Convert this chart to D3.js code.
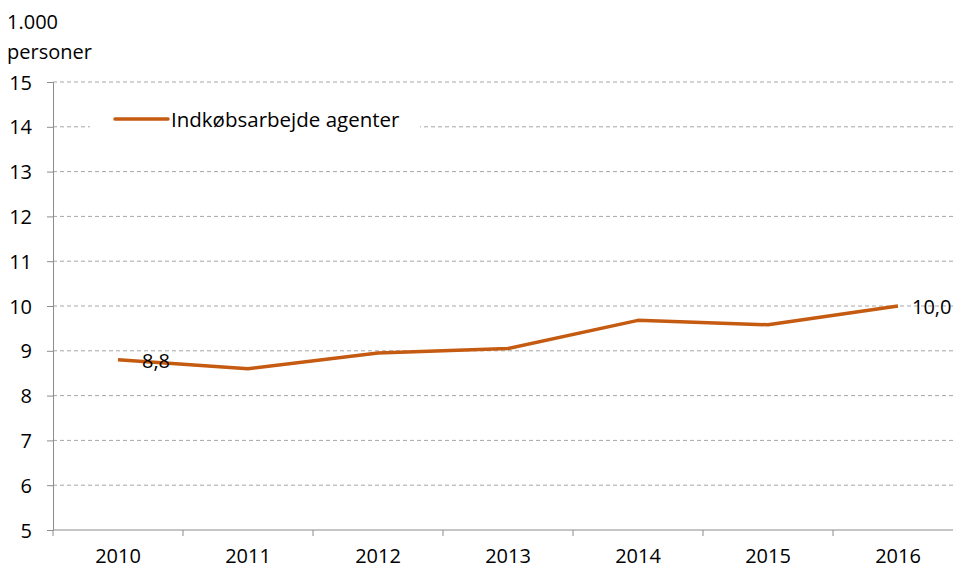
<!DOCTYPE html>
<html>
<head>
<meta charset="utf-8">
<script src="https://cdn.jsdelivr.net/npm/d3@7"></script>
<style>
  body { margin: 0; background: #fff; }
  text { font-family: "Open Sans", "Noto Sans", sans-serif; fill: #000; }
</style>
</head>
<body>
<div id="chart"></div>
<script>
var years = ["2010", "2011", "2012", "2013", "2014", "2015", "2016"];
var agenter = [8.8, 8.6, 8.95, 9.05, 9.68, 9.58, 10.0];
var yTicks = [5, 6, 7, 8, 9, 10, 11, 12, 13, 14, 15];
var seriesName = "Indkøbsarbejde agenter";
var unitLines = ["1.000", "personer"];

var cfg = { w: 953, h: 569, left: 53, top: 82, bot: 530, band: 130 };
var lineColor = "#C55A11";

var svg = d3.select("#chart").append("svg")
  .attr("width", cfg.w)
  .attr("height", cfg.h);

var x = d3.scaleBand()
  .domain(years)
  .range([cfg.left, cfg.left + cfg.band * years.length]);

var y = d3.scaleLinear()
  .domain([5, 15])
  .range([cfg.bot, cfg.top]);

// gridlines
svg.append("g").selectAll("line")
  .data(yTicks.filter(function(d) { return d > 5; }))
  .enter().append("line")
  .attr("x1", cfg.left).attr("x2", cfg.w)
  .attr("y1", function(d) { return y(d); })
  .attr("y2", function(d) { return y(d); })
  .style("stroke", "#a6a6a6")
  .style("stroke-width", 1)
  .style("stroke-dasharray", "4,3");

// y axis
var yAxis = svg.append("g")
  .attr("transform", "translate(" + cfg.left + ",0)")
  .call(d3.axisLeft(y).tickValues(yTicks).tickSize(6).tickPadding(15));
yAxis.select(".domain").style("stroke", "#8c8c8c");
yAxis.selectAll(".tick line").style("stroke", "#8c8c8c");
yAxis.selectAll("text").style("font-size", "20px").attr("dy", "0.35em")
  .style("font-family", "'Open Sans', sans-serif");

// x axis, ticks between categories
var xAxisG = svg.append("g")
  .attr("transform", "translate(0," + cfg.bot + ")");
xAxisG.append("line")
  .attr("x1", cfg.left).attr("x2", cfg.w)
  .style("stroke", "#8c8c8c");
xAxisG.selectAll(".xtick")
  .data(years)
  .enter().append("line")
  .attr("class", "xtick")
  .attr("x1", function(d) { return x(d); })
  .attr("x2", function(d) { return x(d); })
  .attr("y1", 0).attr("y2", 6)
  .style("stroke", "#8c8c8c");
xAxisG.selectAll(".xlabel")
  .data(years)
  .enter().append("text")
  .attr("x", function(d) { return x(d) + x.bandwidth() / 2; })
  .attr("y", 33)
  .attr("text-anchor", "middle")
  .style("font-size", "20px")
  .text(function(d) { return d; });

// unit label
svg.selectAll(".unit")
  .data(unitLines)
  .enter().append("text")
  .attr("x", 7)
  .attr("y", function(d, i) { return 29 + i * 30; })
  .style("font-size", "20px")
  .text(function(d) { return d; });

// legend box covers gridlines
svg.append("rect")
  .attr("x", 90).attr("y", 100)
  .attr("width", 330).attr("height", 45)
  .style("fill", "#fff");
svg.append("line")
  .attr("x1", 115).attr("x2", 168)
  .attr("y1", 119).attr("y2", 119)
  .style("stroke", lineColor)
  .style("stroke-width", 3.5)
  .style("stroke-linecap", "round");
svg.append("text")
  .attr("x", 171).attr("y", 127)
  .style("font-size", "20.5px")
  .text(seriesName);

// series line
var line = d3.line()
  .x(function(d, i) { return x(years[i]) + x.bandwidth() / 2; })
  .y(function(d) { return y(d); });

svg.append("path")
  .datum(agenter)
  .attr("d", line)
  .style("fill", "none")
  .style("stroke", lineColor)
  .style("stroke-width", 3.5)
  .style("stroke-linejoin", "round");

// data labels (first and last)
svg.append("text")
  .attr("x", x(years[0]) + x.bandwidth() / 2 + 38)
  .attr("y", y(agenter[0]) + 8)
  .attr("text-anchor", "middle")
  .style("font-size", "20px")
  .text(d3.format(".1f")(agenter[0]).replace(".", ","));

svg.append("text")
  .attr("x", x(years[6]) + x.bandwidth() / 2 + 14)
  .attr("y", y(agenter[6]) + 8)
  .style("font-size", "20px")
  .text(d3.format(".1f")(agenter[6]).replace(".", ","));
</script>
</body>
</html>
